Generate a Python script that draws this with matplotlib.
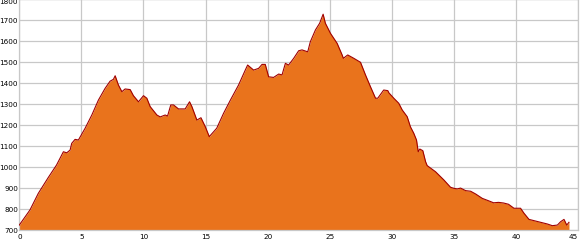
import matplotlib
matplotlib.use("Agg")
import matplotlib.pyplot as plt

# Elevation profile: distance (km) and elevation (m)
distance = [0.0, 0.86, 1.53, 2.34, 3.0, 3.55, 3.82, 4.09, 4.22, 4.49, 4.76, 5.3, 5.84,
            6.37, 6.91, 7.31, 7.58, 7.72, 7.98, 8.26, 8.52, 8.93, 9.19, 9.6, 10.0,
            10.27, 10.54, 11.08, 11.35, 11.75, 11.94, 12.2, 12.42, 12.82, 13.36, 13.71,
            13.9, 14.3, 14.63, 14.98, 15.3, 15.9, 16.45, 17.0, 17.66, 18.2, 18.39,
            18.87, 19.27, 19.55, 19.81, 20.08, 20.48, 20.89, 21.16, 21.43, 21.69, 22.1,
            22.5, 22.77, 23.23, 23.44, 23.85, 24.19, 24.47, 24.65, 25.06, 25.6, 26.0,
            26.1, 26.45, 26.94, 27.48, 27.88, 28.28, 28.69, 28.87, 29.35, 29.68, 29.76,
            30.16, 30.56, 30.84, 31.24, 31.5, 31.77, 31.99, 32.13, 32.26, 32.5, 32.72,
            32.85, 33.52, 34.19, 34.73, 35.0, 35.27, 35.54, 35.94, 36.35, 36.75, 37.29,
            37.82, 38.2, 38.6, 39.0, 39.4, 39.84, 40.37, 40.65, 41.05, 41.45, 41.99,
            42.53, 42.93, 43.34, 43.6, 43.87, 44.09, 44.27]
elevation = [725, 797, 876, 952, 1011, 1074, 1069, 1082, 1114, 1133, 1130, 1186, 1249,
             1320, 1376, 1410, 1419, 1436, 1392, 1360, 1373, 1370, 1341, 1312, 1341,
             1329, 1289, 1249, 1240, 1249, 1244, 1297, 1297, 1278, 1278, 1312,
             1289, 1225, 1236, 1193, 1146, 1186, 1257, 1320, 1392, 1463, 1487,
             1463, 1471, 1490, 1490, 1431, 1428, 1444, 1440, 1495, 1487, 1519,
             1555, 1559, 1550, 1598, 1654, 1686, 1729, 1686, 1638, 1590, 1535,
             1519, 1535, 1519, 1500, 1440, 1384, 1329, 1329, 1368, 1365, 1355,
             1329, 1305, 1273, 1241, 1193, 1162, 1130, 1074, 1087, 1079, 1027,
             1008, 979, 940, 905, 900, 897, 901, 889, 886, 873, 852,
             840, 831, 833, 830, 824, 805, 805, 781, 752, 746, 738,
             730, 722, 725, 741, 752, 725, 738]

x_ticks = [0, 5, 10, 15, 20, 25, 30, 35, 40, 45]
y_ticks = [700, 800, 900, 1000, 1100, 1200, 1300, 1400, 1500, 1600, 1700, 1800]

fig = plt.figure(figsize=(5.8, 2.5), dpi=100)
ax = fig.add_axes([0.0333, 0.0788, 0.9633, 0.924])

ax.fill_between(distance, elevation, 700, color="#E9731C", linewidth=0, zorder=2)
ax.plot(distance, elevation, color="#A00000", linewidth=0.8, zorder=3)

ax.set_xlim(0, 45)
ax.set_ylim(700, 1800)
ax.set_xticks(x_ticks)
ax.set_yticks(y_ticks)
ax.grid(True, color="#C8C8C8", linewidth=0.9, zorder=0)
ax.set_axisbelow(True)
for s in ax.spines.values():
    s.set_color("#C8C8C8")
    s.set_linewidth(0.9)

ax.tick_params(length=0, labelsize=5.2, colors="black")
ax.tick_params(axis="y", pad=1.0)
ax.tick_params(axis="x", pad=2.5)
ylabels = ax.get_yticklabels()
ylabels[-1].set_va("top")
xlabels = ax.get_xticklabels()
xlabels[-1].set_ha("right")

fig.savefig("out.png", dpi=100)
